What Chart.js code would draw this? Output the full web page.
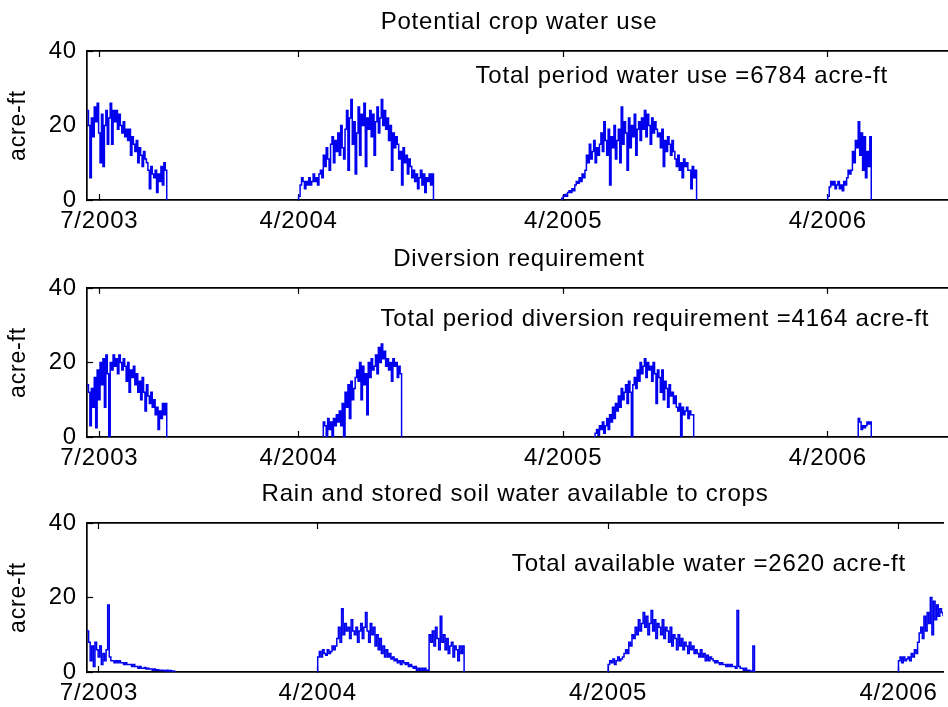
<!DOCTYPE html>
<html>
<head>
<meta charset="utf-8">
<script src="https://cdn.jsdelivr.net/npm/chart.js@4.4.1/dist/chart.umd.min.js"></script>
<style>
  html, body { margin: 0; padding: 0; background: #fff; width: 948px; height: 707px; overflow: hidden; }
  .panel { position: absolute; left: 0; width: 951px; }
  canvas { display: block; }
</style>
</head>
<body>
<div class="panel" style="top:0px;height:236px"><canvas id="c1" width="951" height="236"></canvas></div>
<div class="panel" style="top:237px;height:236px"><canvas id="c2" width="951" height="236"></canvas></div>
<div class="panel" style="top:472px;height:235px"><canvas id="c3" width="951" height="235"></canvas></div>
<script>
// ---- Data: irrigation balance, sampled every 2 days per growing season (acre-ft) ----
const STEP_DAYS = 2;

const tickDates  = ['2003-07-01', '2004-04-01', '2005-04-01', '2006-04-01'];
const tickLabels = ['7/2003', '4/2004', '4/2005', '4/2006'];

// Potential crop water use
const cropUseStarts = ['2003-06-14', '2004-04-01', '2005-03-30', '2006-04-01'];
const cropUse2003 = [24, 20, 6, 22, 17, 25, 21, 26, 18, 10, 23, 9, 20, 24, 15, 22, 26, 15, 24,
                     21, 24, 19, 23, 20, 18, 21, 17, 19, 16, 19, 12, 17, 15, 13, 16, 10, 14,
                     12, 9, 13, 11, 10, 8, 3, 9, 7, 6, 8, 2, 7, 5, 9, 4, 10, 8];
const cropUse2004 = [1, 4, 6, 5, 3, 5, 4, 6, 4, 5, 7, 5, 6, 4, 7,
                     8, 6, 12, 9, 14, 11, 8,
                     15, 17, 10, 16, 13, 18, 12, 20, 14, 11,
                     19, 24, 8, 22, 27, 15, 21, 7, 18, 25, 12,
                     23, 20, 26, 9, 22, 19, 24, 17, 23, 12, 21, 25, 18, 22,
                     27, 20, 24, 19, 22, 16, 20, 8, 18, 14, 17,
                     15, 11, 13, 4, 14, 10, 12, 7, 11, 9, 6,
                     8, 5, 7, 3, 6, 8, 4, 7, 2, 6, 5, 7, 4, 7];
const cropUse2005 = [0.5, 1, 1.5, 1, 2, 2.5, 2, 3, 2.5,
                     4, 5, 4.5, 6, 5, 7, 6, 8,
                     12, 10, 15, 11, 13, 16, 10, 14, 12, 15,
                     18, 13, 21, 16, 12, 19, 4, 17, 14, 20, 11, 16, 19, 10,
                     25, 15, 21, 18, 8, 22, 14, 20, 17, 23, 12, 19, 21, 16,
                     22, 19, 24, 17, 23, 20, 15, 22, 18, 21, 19, 17,
                     18, 14, 19, 9, 16, 13, 17, 15, 12, 16, 13,
                     11, 9, 12, 8, 10, 6, 11, 9, 10, 8,
                     8, 3, 9, 6, 8];
const cropUse2006 = [1, 3.5, 5, 4, 5, 3, 4, 5, 3, 4, 2.5, 5, 4, 6, 8, 7, 8,
                     13, 10, 16, 14, 21, 12, 18, 8, 17, 6, 13, 9, 17];

// Diversion requirement
const diversionStarts = ['2003-06-14', '2004-05-05', '2005-05-13', '2006-05-13'];
const diversion2003 = [14, 12, 3, 13, 8, 16, 2.5, 18, 10, 20, 14, 21, 8, 22, 17, 0, 20,
                       18, 22, 19, 21, 17, 22, 20, 18, 21, 19,
                       15, 20, 12, 18, 16, 19, 14, 17, 12, 15,
                       10, 16, 12, 7, 14, 11, 9, 12, 8, 10,
                       6, 8, 2, 7, 5, 9, 6, 9];
const diversion2004 = [4, 3, 0, 5, 2, 4, 0, 5, 3, 6, 4,
                       7, 3, 9, 0, 12, 8, 14, 5, 15, 10, 13, 16,
                       18, 15, 20, 10, 19, 14, 17, 6, 20, 16, 21, 18, 19, 22, 17,
                       24, 20, 25, 21, 23, 19,
                       21, 18, 20, 15, 21, 19, 20, 16, 19, 17];
const diversion2005 = [0, 1, 2, 0.5, 3, 2, 4, 1, 3, 5, 2,
                       6, 4, 8, 5, 9, 7, 11, 8, 13, 10, 12, 14, 9, 15, 12, 0, 14,
                       16, 13, 18, 15, 20, 17, 19, 21, 16, 20, 18, 19, 15, 20, 17, 9, 18,
                       16, 12, 18, 10, 15, 13, 8, 14, 11, 12, 9, 11,
                       8, 7, 9, 0, 8, 6, 7, 8, 5, 7, 6, 6];
const diversion2006 = [5, 4, 2, 3, 2.5, 3, 4, 3.5, 4];

// Rain and stored soil water available to crops
const availableStarts = ['2003-06-16', '2004-04-01', '2005-04-01', '2006-04-01'];
const available2003 = [11, 8, 3, 7, 1.5, 8, 6, 4, 7, 2, 5, 3, 6, 18, 4, 3,
                       3, 2.5, 3, 2.5, 3, 2.5, 2.5, 2, 2.5, 2, 2,
                       2, 1.5, 2, 1.5, 1.5, 1, 1.5, 1, 1, 1.2, 0.8, 1, 0.8,
                       0.8, 0.5, 0.8, 0.5, 0.6, 0.5, 0.4, 0.5, 0.4, 0.3, 0.5, 0.3, 0.4, 0.3, 0.3];
const available2004 = [4, 5.5, 4, 6, 5, 4.5, 6, 5, 5.5, 7, 6, 7,
                       9, 12, 8, 17, 10, 13, 11, 12, 9, 14, 11, 10, 12, 8, 11,
                       13, 9, 12, 16, 11, 8, 13, 10, 12, 7, 10, 6, 9, 5, 7, 4, 6, 4, 5,
                       3.5, 4, 3, 3.5, 2.5, 3, 2, 3, 2.5, 2, 2.5, 1.5, 2, 1.5, 1, 1.5, 0.5, 1, 0.5,
                       1, 0.5, 1, 0.5, 0.5, 10, 8, 11, 7,
                       12, 9, 6, 15, 8, 10, 6, 9, 5, 7, 8, 4, 7, 6, 3, 7, 5, 7];
const available2005 = [2, 3, 2.5, 3.5, 2, 3, 4, 3, 3.5, 4,
                       5, 6, 5, 8, 7, 10, 9, 12, 10, 14, 11, 13,
                       16, 12, 15, 10, 13, 16.5, 11, 14, 9, 13, 12, 10, 14, 9, 12,
                       11, 8, 12, 7, 10, 9, 6, 10, 7, 9, 6, 8, 7, 5, 8, 6, 7, 5, 6,
                       5, 4, 6, 4, 5, 3, 4.5, 3, 4, 3.5, 3, 2.5, 3, 2.5, 2,
                       2.5, 2, 2, 1.5, 2, 1.5, 2, 1.5, 1.5, 1, 16.5, 1.5, 1, 1, 0.5, 1, 0.5,
                       0.5, 0.3, 0.3, 7];
const available2006 = [3, 4, 2.5, 4, 3, 3.5, 4, 3, 5, 4, 6, 5, 8, 10.5,
                       12, 9, 15, 11, 16, 13, 20, 10, 19, 14, 18, 15, 17, 16, 15];

const panelTitles = ['Potential crop water use', 'Diversion requirement',
                     'Rain and stored soil water available to crops'];
const panelNotes  = ['Total period water use =6784 acre-ft',
                     'Total period diversion requirement =4164 acre-ft',
                     'Total available water =2620 acre-ft'];

// ---- helpers ----
const ORIGIN = Date.UTC(2003, 6, 1);
function dayOf(iso) {
  const [y, m, d] = iso.split('-').map(Number);
  return (Date.UTC(y, m - 1, d) - ORIGIN) / 86400000;
}
const tickDays = tickDates.map(dayOf);

// Stair-step series: each season rises from zero, holds each sample for STEP_DAYS, drops back to zero.
function seasonPoints(starts, seasons) {
  const pts = [];
  seasons.forEach((vals, k) => {
    const d0 = dayOf(starts[k]);
    if (k > 0) {
      pts.push({ x: d0, y: null });
      pts.push({ x: d0, y: 0 });
    }
    vals.forEach((v, i) => pts.push({ x: d0 + STEP_DAYS * i, y: v }));
    pts.push({ x: d0 + STEP_DAYS * vals.length, y: 0 });
  });
  return pts;
}

const FONT = "'Liberation Sans', Arial, Helvetica, sans-serif";
const FONT_SIZE = 24;
const PLOT_TOP = 51, PLOT_BOTTOM = 200, PLOT_LEFT = 87;

// Slightly open letter spacing for all text on the canvas
const spacingPlugin = {
  id: 'spacing',
  beforeLayout(chart) { chart.ctx.letterSpacing = '0.8px'; },
  beforeDraw(chart) { chart.ctx.letterSpacing = '0.8px'; }
};

// Text placed in data coordinates inside the axes
const notePlugin = {
  id: 'note',
  afterDatasetsDraw(chart, args, opts) {
    const { ctx, scales } = chart;
    ctx.save();
    ctx.font = opts.size + 'px ' + FONT;
    ctx.fillStyle = '#000';
    ctx.textAlign = 'left';
    ctx.textBaseline = 'middle';
    ctx.fillText(opts.text, scales.x.getPixelForValue(dayOf(opts.date)), scales.y.getPixelForValue(opts.y));
    ctx.restore();
  }
};

function setDateTicks(scale) {
  scale.ticks = tickDays.map(v => ({ value: v }));
}

function makePanel(id, title, note, noteAt, series, xRange) {
  const canvas = document.getElementById(id);
  const H = canvas.height;
  const tickGrid = { display: true, drawOnChartArea: false, drawTicks: true, tickLength: -6, color: '#000', tickWidth: 1.2 };
  return new Chart(canvas, {
    type: 'line',
    data: {
      datasets: [{
        data: series,
        borderColor: '#0000ee',
        borderWidth: 1.5,
        pointRadius: 0,
        stepped: 'before',
        spanGaps: false,
        fill: false,
        tension: 0
      }]
    },
    options: {
      responsive: false,
      devicePixelRatio: 1,
      animation: false,
      events: [],
      layout: { padding: 0 },
      plugins: {
        legend: { display: false },
        tooltip: { enabled: false },
        title: {
          display: true,
          text: title,
          fullSize: false,
          color: '#000',
          font: { family: FONT, size: FONT_SIZE, weight: 'normal', lineHeight: 1.2 },
          padding: { top: 7.5, bottom: PLOT_TOP - 7.5 - FONT_SIZE * 1.2 }
        },
        note: { text: note, date: noteAt.date, y: noteAt.y, size: FONT_SIZE }
      },
      scales: {
        x: {
          type: 'linear',
          position: 'bottom',
          min: dayOf(xRange[0]),
          max: dayOf(xRange[1]),
          afterBuildTicks: setDateTicks,
          afterFit(scale) { scale.height = H - PLOT_BOTTOM; },
          border: { display: true, color: '#000', width: 1.7 },
          grid: tickGrid,
          ticks: {
            autoSkip: false, maxRotation: 0, padding: 13, color: '#000',
            font: { family: FONT, size: FONT_SIZE, lineHeight: 1.2 },
            callback: (v) => tickLabels[tickDays.indexOf(v)]
          }
        },
        xTop: {
          type: 'linear',
          position: 'top',
          min: dayOf(xRange[0]),
          max: dayOf(xRange[1]),
          afterBuildTicks: setDateTicks,
          afterFit(scale) { scale.height = 0; },
          border: { display: true, color: '#000', width: 1.7 },
          grid: tickGrid,
          ticks: { display: false }
        },
        y: {
          min: 0, max: 40,
          afterFit(scale) { scale.width = PLOT_LEFT; },
          border: { display: true, color: '#000', width: 1.7 },
          grid: tickGrid,
          ticks: {
            stepSize: 20, padding: 16, color: '#000',
            font: { family: FONT, size: FONT_SIZE, lineHeight: 1.2 }
          },
          title: {
            display: true, text: 'acre-ft', color: '#000',
            font: { family: FONT, size: 23, lineHeight: 1.2 },
            padding: { top: 5, bottom: 0 }
          }
        }
      }
    },
    plugins: [spacingPlugin, notePlugin]
  });
}

makePanel('c1', panelTitles[0], panelNotes[0], { date: '2004-12-01', y: 33.3 },
  seasonPoints(cropUseStarts, [cropUse2003, cropUse2004, cropUse2005, cropUse2006]),
  ['2003-06-14', '2006-09-18']);
makePanel('c2', panelTitles[1], panelNotes[1], { date: '2004-07-23', y: 31.5 },
  seasonPoints(diversionStarts, [diversion2003, diversion2004, diversion2005, diversion2006]),
  ['2003-06-14', '2006-09-18']);
makePanel('c3', panelTitles[2], panelNotes[2], { date: '2004-12-01', y: 29 },
  seasonPoints(availableStarts, [available2003, available2004, available2005, available2006]),
  ['2003-06-16', '2006-05-27']);
</script>
</body>
</html>
